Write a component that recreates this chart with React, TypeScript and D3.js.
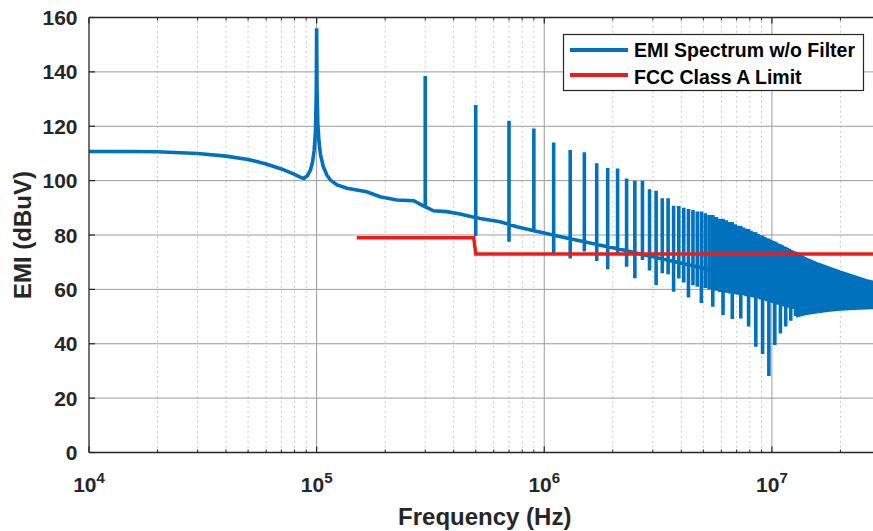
import React from 'react';
import * as d3 from 'd3';

const W = 873;
const H = 531;

// axis extents
const xDomain: [number, number] = [1e4, 3e7];
const yDomain: [number, number] = [0, 160];
const yTickValues = [0, 20, 40, 60, 80, 100, 120, 140, 160];
const xMajorExponents = [4, 5, 6, 7];

// smooth part of the spectrum (Hz, dBuV)
const baseFreq = [
  1e4, 1.5e4, 2e4, 3e4, 4e4, 5e4, 6e4, 7e4, 8e4, 8.5e4, 8.8e4, 9.1e4, 9.4e4, 9.6e4, 9.75e4,
  9.88e4, 9.96e4, 1e5, 1.004e5, 1.012e5, 1.025e5, 1.04e5, 1.07e5, 1.11e5, 1.15e5, 1.23e5,
  1.36e5, 1.66e5, 1.9e5, 2.25e5, 2.67e5, 2.9e5, 3.26e5, 3.73e5, 4.27e5, 4.81e5, 5.23e5,
  6.4e5, 7.58e5, 1e6, 1.5e6, 2e6, 3e6, 5e6, 8e6, 1.3e7,
];
const baseLevel = [
  110.7, 110.7, 110.6, 110.0, 109.0, 107.8, 106.1, 104.3, 102.3, 101.2, 100.8, 101.8, 104.0,
  107.0, 111.0, 118.0, 132.0, 156.0, 134.0, 121.0, 114.0, 109.5, 105.1, 102.0, 100.2, 98.4,
  97.2, 95.9, 94.1, 92.9, 92.6, 91.0, 88.9, 88.6, 87.7, 86.7, 86.1, 84.9, 83.0, 80.7, 77.5,
  75.3, 72.0, 67.8, 63.5, 60.5,
];

// odd harmonics (MHz) with their peak and notch levels
const harmonicMHz = [
  0.3, 0.5, 0.7, 0.9, 1.1, 1.3, 1.5, 1.7, 1.9, 2.1, 2.3, 2.5, 2.7, 2.9, 3.1, 3.3, 3.5, 3.7,
  3.9, 4.1, 4.3, 4.5, 4.7, 4.9, 5.1, 5.3, 5.5, 5.7, 5.9, 6.1, 6.3, 6.5, 6.7, 6.9, 7.1, 7.3,
  7.5, 7.7, 7.9, 8.1, 8.3, 8.5, 8.7, 8.9, 9.1, 9.3, 9.5, 9.7, 9.9, 10.1, 10.3, 10.5, 10.7,
  10.9, 11.1, 11.3, 11.5, 11.7, 11.9, 12.1, 12.3, 12.5, 12.7, 12.9,
];
const peakDb = [
  138.5, 127.8, 122.0, 119.2, 114.0, 111.3, 110.4, 106.4, 104.6, 104.5, 100.8, 100.0, 100.0,
  96.8, 96.3, 93.5, 93.5, 90.8, 90.7, 90.0, 89.6, 89.2, 88.6, 88.6, 88.0, 87.4, 87.4, 86.6,
  86.0, 86.0, 85.4, 84.8, 84.8, 84.0, 83.4, 83.4, 82.8, 82.3, 82.2, 81.6, 81.1, 81.0, 80.4,
  79.9, 79.8, 79.3, 78.8, 78.7, 78.2, 77.8, 77.6, 77.2, 76.8, 76.6, 76.2, 75.9, 75.6, 75.2,
  74.9, 74.6, 74.3, 74.0, 73.7, 73.4,
];
const notchDb = [
  90.0, 79.6, 77.5, 81.0, 73.3, 71.4, 73.9, 70.4, 67.4, 73.0, 68.3, 64.1, 70.8, 66.9, 61.6,
  65.9, 65.6, 59.1, 64.0, 62.5, 57.0, 61.5, 61.0, 55.0, 60.5, 60.0, 53.6, 59.5, 59.0, 50.6,
  58.8, 58.5, 49.1, 58.2, 58.0, 49.3, 57.8, 57.5, 46.3, 57.2, 57.0, 38.9, 56.6, 56.3, 36.2,
  56.0, 55.6, 28.1, 55.2, 55.0, 39.5, 54.6, 54.3, 43.8, 54.0, 53.7, 46.3, 53.4, 53.2, 48.5,
  53.0, 52.8, 50.2, 52.6,
];

// dense unresolved harmonics above ~13 MHz: envelope (MHz, dBuV)
const bandFreqMHz = [12.9, 14, 16, 18, 20, 23, 26, 30];
const bandTop = [73.4, 71.6, 69.5, 68.0, 66.6, 64.9, 63.5, 62.2];
const bandBottom = [50.0, 50.8, 51.6, 52.1, 52.5, 52.8, 53.0, 53.2];

// FCC Class A limit
const limitFreq = [1.5e5, 4.9e5, 5e5, 3e7];
const limitDb = [79, 79, 73, 73];

const legendLabels = ['EMI Spectrum w/o Filter', 'FCC Class A Limit'];
const xLabel = 'Frequency (Hz)';
const yLabel = 'EMI (dBuV)';

const BLUE = '#0072BD';
const RED = '#ee1b1b';
const INK = '#262626';
const FONT = '"Liberation Sans", Arial, Helvetica, sans-serif';

export default function App() {
  const left = 89;
  const right = 880.5;
  const top = 17.5;
  const bottom = 452.5;

  const x = d3.scaleLog().domain(xDomain).range([left, right]);
  const y = d3.scaleLinear().domain(yDomain).range([bottom, top]);
  const baseScale = d3.scaleLog().domain(baseFreq).range(baseLevel);

  const pts: { f: number; v: number; k: number }[] = [];
  let k = 0;
  baseFreq.forEach((f, i) => {
    if (f < harmonicMHz[harmonicMHz.length - 1] * 1e6) pts.push({ f, v: baseLevel[i], k: k++ });
  });
  harmonicMHz.forEach((m, i) => {
    const f = m * 1e6;
    const b = baseScale(f);
    pts.push({ f, v: b, k: k++ }, { f, v: peakDb[i], k: k++ }, { f, v: notchDb[i], k: k++ }, { f, v: b, k: k++ });
  });
  pts.sort((a, b) => a.f - b.f || a.k - b.k);

  const line = d3
    .line<{ f: number; v: number }>()
    .x((d) => x(d.f))
    .y((d) => y(d.v));
  const spectrumPath = line(pts) || '';

  const bandData = bandFreqMHz.map((m, i) => ({ f: m * 1e6, t: bandTop[i], b: bandBottom[i] }));
  const bandPath =
    d3
      .area<{ f: number; t: number; b: number }>()
      .x((d) => x(d.f))
      .y0((d) => y(d.b))
      .y1((d) => y(d.t))(bandData) || '';

  const limitPath =
    d3
      .line<number>()
      .x((d) => x(d))
      .y((_, i) => y(limitDb[i]))(limitFreq) || '';

  const allTicks = x.ticks().filter((t) => t >= xDomain[0] && t <= xDomain[1]);
  const isMajor = (t: number) => Math.abs(Math.log10(t) - Math.round(Math.log10(t))) < 1e-9;
  const minorTicks = allTicks.filter((t) => !isMajor(t));
  const majorTicks = xMajorExponents.map((e) => Math.pow(10, e));

  return (
    <svg
      width={W}
      height={H}
      viewBox={`0 0 ${W} ${H}`}
      style={{ position: 'absolute', left: 0, top: 0, background: '#fff', fontFamily: FONT }}
    >
      <defs>
        <clipPath id="plotClip">
          <rect x={left} y={top} width={right - left} height={bottom - top} />
        </clipPath>
      </defs>
      <rect x={0} y={0} width={W} height={H} fill="#fff" />

      {/* minor vertical grid */}
      {minorTicks.map((t) => (
        <line
          key={'mg' + t}
          x1={x(t)}
          x2={x(t)}
          y1={bottom}
          y2={top}
          stroke="#a8a8a8"
          strokeWidth={1}
          strokeDasharray="1.2 3.8"
        />
      ))}
      {/* major vertical grid */}
      {majorTicks.slice(1).map((t) => (
        <line key={'Mg' + t} x1={x(t)} x2={x(t)} y1={bottom} y2={top} stroke="#9c9c9c" strokeWidth={1} />
      ))}
      {/* horizontal grid */}
      {yTickValues.slice(1, -1).map((v) => (
        <line key={'hg' + v} x1={left} x2={W} y1={y(v)} y2={y(v)} stroke="#9c9c9c" strokeWidth={1} />
      ))}

      {/* spectrum */}
      <g clipPath="url(#plotClip)">
        <path d={bandPath} fill={BLUE} stroke={BLUE} strokeWidth={2} />
        <path d={spectrumPath} fill="none" stroke={BLUE} strokeWidth={3.6} />
        <path d={limitPath} fill="none" stroke={RED} strokeWidth={3.5} />
      </g>

      {/* axes */}
      <line x1={left} x2={W} y1={bottom} y2={bottom} stroke={INK} strokeWidth={1.3} />
      <line x1={left} x2={W} y1={top} y2={top} stroke={INK} strokeWidth={1.3} />
      <line x1={left} x2={left} y1={top} y2={bottom} stroke={INK} strokeWidth={1.3} />
      {minorTicks.map((t) => (
        <g key={'mt' + t}>
          <line x1={x(t)} x2={x(t)} y1={bottom} y2={bottom - 3} stroke={INK} strokeWidth={1} />
          <line x1={x(t)} x2={x(t)} y1={top} y2={top + 3} stroke={INK} strokeWidth={1} />
        </g>
      ))}
      {majorTicks.map((t) => (
        <g key={'Mt' + t}>
          <line x1={x(t)} x2={x(t)} y1={bottom} y2={bottom - 6} stroke={INK} strokeWidth={1.2} />
          <line x1={x(t)} x2={x(t)} y1={top} y2={top + 6} stroke={INK} strokeWidth={1.2} />
        </g>
      ))}
      {yTickValues.map((v) => (
        <line key={'yt' + v} x1={left} x2={left + 6} y1={y(v)} y2={y(v)} stroke={INK} strokeWidth={1.2} />
      ))}

      {/* y tick labels */}
      {yTickValues.map((v) => (
        <text
          key={'yl' + v}
          x={77.5}
          y={y(v)}
          dy="0.36em"
          textAnchor="end"
          fontSize={21}
          fontWeight="bold"
          fill={INK}
        >
          {v}
        </text>
      ))}
      {/* x tick labels */}
      {xMajorExponents.map((e) => (
        <text
          key={'xl' + e}
          x={x(Math.pow(10, e))}
          y={492}
          textAnchor="middle"
          fontSize={21}
          fontWeight="bold"
          fill={INK}
        >
          10
          <tspan fontSize={15} dy={-9}>
            {e}
          </tspan>
        </text>
      ))}

      {/* axis labels */}
      <text x={(left + right) / 2} y={525} textAnchor="middle" fontSize={24} fontWeight="bold" fill={INK}>
        {xLabel}
      </text>
      <text
        transform={`translate(30.5, ${(top + bottom) / 2}) rotate(-90)`}
        textAnchor="middle"
        fontSize={24}
        fontWeight="bold"
        fill={INK}
      >
        {yLabel}
      </text>

      {/* legend */}
      <g>
        <rect x={563.5} y={34.5} width={300} height={56} fill="#fff" stroke={INK} strokeWidth={1.2} />
        <line x1={570} x2={628} y1={50} y2={50} stroke={BLUE} strokeWidth={4} />
        <line x1={570} x2={628} y1={75} y2={75} stroke={RED} strokeWidth={4} />
        <text x={634} y={57.3} fontSize={19.5} fontWeight="bold" fill="#000">
          {legendLabels[0]}
        </text>
        <text x={634} y={84} fontSize={19.5} fontWeight="bold" fill="#000">
          {legendLabels[1]}
        </text>
      </g>
    </svg>
  );
}
